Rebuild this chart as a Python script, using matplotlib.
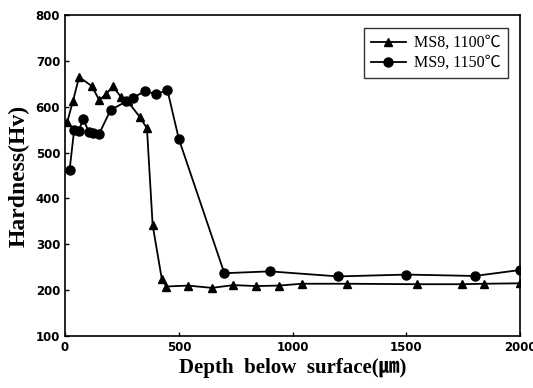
import matplotlib.pyplot as plt

# MS8, 1100C (triangles)
ms8_depth = [10, 35, 62, 118, 150, 180, 210, 245, 275, 330, 360, 385, 425, 445,
             540, 645, 740, 840, 940, 1040, 1240, 1545, 1745, 1840, 2000]
ms8_hv = [567, 613, 665, 645, 615, 627, 645, 622, 612, 577, 553, 342, 225, 208,
          210, 205, 211, 209, 210, 214, 214, 213, 213, 214, 215]

# MS9, 1150C (circles)
ms9_depth = [20, 40, 60, 80, 105, 125, 150, 200, 270, 300, 350, 400, 450, 500,
             700, 900, 1200, 1500, 1800, 2000]
ms9_hv = [462, 549, 548, 573, 545, 542, 541, 593, 612, 620, 634, 628, 636, 530,
          237, 241, 230, 234, 231, 244]

x_ticks = [0, 500, 1000, 1500, 2000]
y_ticks = [100, 200, 300, 400, 500, 600, 700, 800]

fig = plt.figure(figsize=(5.33, 3.88), dpi=100)
ax = fig.add_axes([0.122, 0.134, 0.854, 0.827])

ax.plot(ms8_depth, ms8_hv, color='black', lw=1.3, marker='^', ms=6, label='MS8, 1100℃')
ax.plot(ms9_depth, ms9_hv, color='black', lw=1.3, marker='o', ms=6.5, label='MS9, 1150℃')

ax.set_xlim(0, 2000)
ax.set_ylim(100, 800)
ax.set_xticks(x_ticks)
ax.set_yticks(y_ticks)
ax.tick_params(direction='in', length=3, width=1, labelsize=8.5)
for lab in ax.get_xticklabels() + ax.get_yticklabels():
    lab.set_fontweight('heavy')
    lab.set_family('DejaVu Sans')
for s in ax.spines.values():
    s.set_linewidth(1.2)

ax.set_xlabel('Depth  below  surface(㎛)', fontsize=15, fontweight='bold',
              family=['Liberation Serif', 'Noto Sans CJK SC'], labelpad=3)
ax.set_ylabel('Hardness(Hv)', fontsize=17, fontweight='bold',
              family=['Liberation Serif'], labelpad=4)

leg = ax.legend(loc='upper right', prop={'family': ['Liberation Serif', 'Noto Sans CJK SC'], 'size': 11.5},
                frameon=True, fancybox=False, edgecolor='black', handlelength=2.2,
                borderpad=0.45, labelspacing=0.25, handletextpad=0.5,
                bbox_to_anchor=(0.99, 0.985))
leg.get_frame().set_linewidth(1.0)

fig.savefig('out.png', dpi=100)
